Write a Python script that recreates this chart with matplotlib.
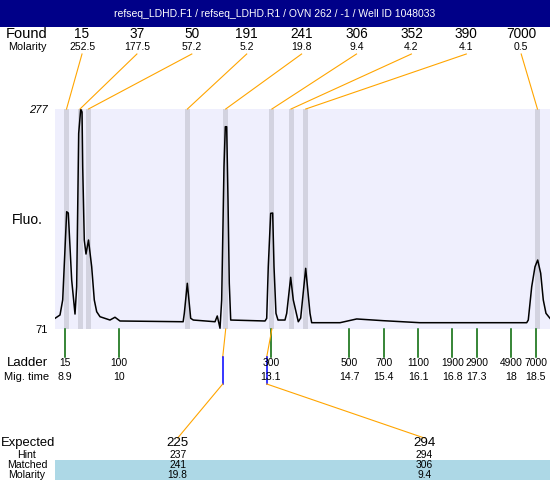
import matplotlib
matplotlib.use("Agg")
import matplotlib.pyplot as plt
from matplotlib.patches import Rectangle
import numpy as np

# ── Data ────────────────────────────────────────────────────────────────────
TITLE = "refseq_LDHD.F1 / refseq_LDHD.R1 / OVN 262 / -1 / Well ID 1048033"

found_size = [15, 37, 50, 191, 241, 306, 352, 390, 7000]
found_molarity = [252.5, 177.5, 57.2, 5.2, 19.8, 9.4, 4.2, 4.1, 0.5]
found_time = [8.932, 9.207, 9.380, 11.397, 12.178, 13.120, 13.510, 13.810, 18.535]

ladder_size = [15, 100, 300, 500, 700, 1100, 1900, 2900, 4900, 7000]
ladder_time = [8.9, 10, 13.1, 14.7, 15.4, 16.1, 16.8, 17.3, 18, 18.5]

expected_size = [225, 294]
expected_time = [12.117, 13.014]
hint_size = [237, 294]
matched_size = [241, 306]
matched_molarity = [19.8, 9.4]

trace_time = [
    8.697, 8.799, 8.854, 8.935, 8.968, 9.037, 9.105, 9.139, 9.180, 9.221,
    9.248, 9.262, 9.294, 9.329, 9.380, 9.445, 9.498, 9.547, 9.615, 9.818,
    9.920, 10.022, 11.310, 11.334, 11.395, 11.464, 11.517, 11.960, 12.006,
    12.062, 12.096, 12.143, 12.170, 12.198, 12.225, 12.251, 12.280, 12.980,
    13.014, 13.046, 13.095, 13.136, 13.163, 13.203, 13.244, 13.387, 13.422,
    13.503, 13.556, 13.658, 13.707, 13.809, 13.897, 13.931, 14.509, 14.849,
    15.386, 16.140, 18.316, 18.348, 18.418, 18.485, 18.540, 18.601, 18.654,
    18.709, 18.791,
]
trace_fluo = [
    81.0, 84.1, 98.2, 180.8, 179.6, 116.9, 85.0, 110.6, 254.2, 276.7,
    274.2, 223.0, 154.3, 141.2, 154.3, 129.3, 98.2, 87.2, 82.5, 79.4,
    82.0, 78.5, 77.8, 85.7, 113.8, 81.0, 79.4, 77.8, 83.2,
    71.7, 98.2, 223.0, 260.4, 260.4, 191.8, 113.8, 79.4, 78.5,
    81.0, 129.3, 179.3, 179.6, 129.3, 85.7, 79.4, 79.4, 85.7,
    119.4, 98.2, 77.8, 81.3, 127.8, 85.7, 76.9, 76.9, 80.4,
    78.8, 76.9, 76.9, 79.4, 110.6, 129.3, 135.6, 123.2, 98.2,
    85.7, 81.0,
]

Y_MIN, Y_MAX = 71, 277
T_LEFT, T_RIGHT = 8.697, 18.791

# ── Style ───────────────────────────────────────────────────────────────────
NAVY = "#000088"
LAVENDER = "#EFEFFD"
BAND = "#D3D3E0"
ORANGE = "#FFA500"
GREEN = "#006400"
BLUE = "#0000FF"
ROWBLUE = "#ADD8E6"

plt.rcParams["font.family"] = ["Liberation Sans", "DejaVu Sans"]

W, H = 550, 480
fig = plt.figure(figsize=(W / 100, H / 100), dpi=100)
fig.patch.set_facecolor("white")

# main trace area (pixels 55..550 x 109..329)
ax = fig.add_axes([55 / W, (H - 329) / H, 495 / W, 220 / H], zorder=1)
ax.set_facecolor(LAVENDER)
ax.set_xlim(T_LEFT, T_RIGHT)
ax.set_ylim(Y_MIN, Y_MAX)
for s in ax.spines.values():
    s.set_visible(False)
ax.set_xticks([])
ax.set_yticks([])

for t in found_time:
    ax.axvspan(t - 0.051, t + 0.051, color=BAND, lw=0, zorder=1)
ax.plot(trace_time, trace_fluo, color="black", lw=1.1, zorder=3)

# overlay in pixel coordinates for all the annotation rows
ov = fig.add_axes([0, 0, 1, 1], zorder=2)
ov.set_xlim(0, W)
ov.set_ylim(H, 0)
ov.axis("off")
ov.patch.set_alpha(0)


def tx(t):
    """migration time -> overlay pixel x, via the trace axes scale"""
    disp = ax.transData.transform((t, Y_MIN))
    return ov.transData.inverted().transform(disp)[0]


# title bar
ov.add_patch(Rectangle((0, 0), W, 27, color=NAVY, lw=0))
ov.text(275, 14, TITLE, color="white", fontsize=7.5, ha="center", va="center")

# found peaks
LEFT_X = 27
ov.text(LEFT_X, 34, "Found", fontsize=10.5, ha="center", va="center")
ov.text(LEFT_X, 47, "Molarity", fontsize=7.8, ha="center", va="center")
found_x = 82 + 54.9 * np.arange(len(found_size))
for fx, size, mol, t in zip(found_x, found_size, found_molarity, found_time):
    ov.text(fx, 34, str(size), fontsize=9.8, ha="center", va="center")
    ov.text(fx, 47, f"{mol:.1f}", fontsize=7.5, ha="center", va="center")
    ov.plot([fx, tx(t)], [54, 109], color=ORANGE, lw=0.8)

# y labels
ov.text(48, 110, str(Y_MAX), fontsize=8, ha="right", va="center", style="italic")
ov.text(48, 330, str(Y_MIN), fontsize=8, ha="right", va="center")
ov.text(LEFT_X, 220, "Fluo.", fontsize=10, ha="center", va="center")

# ladder
ov.text(LEFT_X, 363, "Ladder", fontsize=9.5, ha="center", va="center")
ov.text(LEFT_X, 377, "Mig. time", fontsize=8, ha="center", va="center")
for size, t in zip(ladder_size, ladder_time):
    x = tx(t)
    ov.plot([x, x], [329, 357], color=GREEN, lw=1.1)
    ov.text(x, 363, str(size), fontsize=7.4, ha="center", va="center")
    ov.text(x, 377, f"{t:g}", fontsize=7.6, ha="center", va="center")

# expected / matched
ov.add_patch(Rectangle((55, 460), W - 55, 20, color=ROWBLUE, lw=0))
ov.text(1, 443, "Expected", fontsize=9.4, ha="left", va="center")
ov.text(LEFT_X, 455, "Hint", fontsize=7.6, ha="center", va="center")
ov.text(LEFT_X, 465, "Matched", fontsize=7.6, ha="center", va="center")
ov.text(LEFT_X, 474.5, "Molarity", fontsize=7.6, ha="center", va="center")
exp_x = [177.7, 424.3]
for ex, es, et, hs, ms, mm in zip(exp_x, expected_size, expected_time,
                                  hint_size, matched_size, matched_molarity):
    mt = found_time[found_size.index(ms)]
    xe = tx(et)
    ov.plot([tx(mt), xe], [329, 357], color=ORANGE, lw=0.8)
    ov.plot([xe, xe], [357, 384], color=BLUE, lw=1.1)
    ov.plot([xe, ex], [384, 438], color=ORANGE, lw=0.8)
    ov.text(ex, 443, str(es), fontsize=9.6, ha="center", va="center")
    ov.text(ex, 455, str(hs), fontsize=7.4, ha="center", va="center")
    ov.text(ex, 465, str(ms), fontsize=7.4, ha="center", va="center")
    ov.text(ex, 474.5, f"{mm:.1f}", fontsize=7.4, ha="center", va="center")

fig.savefig("out.png", dpi=100)
